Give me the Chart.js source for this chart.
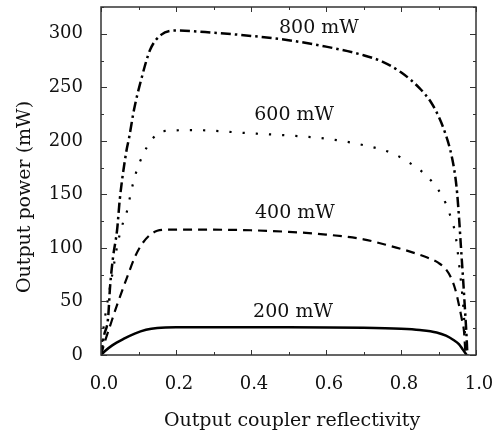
<!DOCTYPE html>
<html>
<head>
<meta charset="utf-8">
<script src="https://cdn.jsdelivr.net/npm/chart.js@4/dist/chart.umd.min.js"></script>
<style>
  body { margin: 0; background: #fff; }
  #wrap { width: 500px; height: 430px; }
</style>
</head>
<body>
<div id="wrap"><canvas id="chart"></canvas></div>
<script>
// reflectivity (x) and output power (y, mW) per pump power
var r800 = [0, 0.008, 0.019, 0.024, 0.032, 0.043, 0.05, 0.067, 0.075, 0.088, 0.107, 0.131, 0.16, 0.2, 0.3, 0.4, 0.5, 0.6, 0.7, 0.75, 0.8, 0.85, 0.88, 0.9, 0.92, 0.935, 0.945, 0.95, 0.955, 0.96, 0.965, 0.97, 0.975, 0.977];
var p800 = [0, 18, 35, 63, 91, 117, 145, 189, 203, 229, 257, 285, 299, 303, 301, 298, 294, 288, 280, 274, 264, 249, 236, 223, 205, 186, 166, 150, 127, 100, 74, 46, 16, 0];

var r600 = [0, 0.005, 0.015, 0.03, 0.045, 0.06, 0.069, 0.077, 0.086, 0.096, 0.112, 0.133, 0.165, 0.25, 0.4, 0.5, 0.6, 0.7, 0.78, 0.82, 0.85, 0.88, 0.9, 0.92, 0.935, 0.945, 0.952, 0.957, 0.963, 0.968, 0.973];
var p600 = [0, 20, 45, 75, 105, 125, 134, 147, 161, 173, 187, 200, 209, 210, 207, 205, 202, 196, 188, 180, 173, 163, 154, 141, 126, 113, 94, 78, 58, 36, 0];

var r400 = [0, 0.01, 0.024, 0.045, 0.069, 0.091, 0.11, 0.13, 0.15, 0.17, 0.3, 0.4, 0.5, 0.6, 0.7, 0.77, 0.82, 0.87, 0.9, 0.92, 0.935, 0.945, 0.955, 0.963, 0.968, 0.972];
var p400 = [0, 12, 27, 49, 72, 92, 104, 112, 116, 117, 117, 116.5, 115, 112.5, 108, 102, 97, 91, 86, 80, 71, 61, 46, 32, 22, 0];

var r200 = [0, 0.01, 0.03, 0.06, 0.09, 0.12, 0.15, 0.2, 0.5, 0.7, 0.8, 0.85, 0.895, 0.92, 0.94, 0.955, 0.965, 0.975];
var p200 = [0, 3.5, 9, 15, 20, 23.5, 25.3, 26, 26, 25.5, 24.5, 23.3, 21, 18, 14, 10, 5, 0];

var curveLabels = ['800 mW', '600 mW', '400 mW', '200 mW'];
var labelX = [0.581, 0.515, 0.517, 0.512];
var labelY = [305, 224, 133, 40];

var xTicks = [0, 0.2, 0.4, 0.6, 0.8, 1.0];
var yTicks = [0, 50, 100, 150, 200, 250, 300];

var serif = '"DejaVu Serif", "Liberation Serif", serif';

function pts(xs, ys) {
  return xs.map(function(x, i) { return { x: x, y: ys[i] }; });
}

function line(data, dash, width) {
  return {
    data: data,
    borderColor: '#000',
    borderWidth: width,
    borderDash: dash,
    borderCapStyle: 'butt',
    pointRadius: 0,
    fill: false,
    cubicInterpolationMode: 'monotone'
  };
}

// frame, inward ticks, axis titles and curve labels
var decor = {
  id: 'decor',
  afterDraw: function(chart) {
    var c = chart.ctx, a = chart.chartArea;
    var xs = chart.scales.x, ys = chart.scales.y;
    c.save();
    c.strokeStyle = '#333';
    c.lineWidth = 1;
    var i, px, len;
    for (i = 0; i <= 10; i++) {
      px = Math.round(xs.getPixelForValue(i / 10)) + 0.5;
      len = (i % 2 === 0) ? 5 : 3;
      c.beginPath();
      c.moveTo(px, a.bottom); c.lineTo(px, a.bottom - len);
      c.moveTo(px, a.top); c.lineTo(px, a.top + len);
      c.stroke();
    }
    for (i = 0; i <= 325; i += 25) {
      px = Math.round(ys.getPixelForValue(i)) + 0.5;
      len = (i % 50 === 0) ? 6 : 3;
      c.beginPath();
      c.moveTo(a.left, px); c.lineTo(a.left + len, px);
      c.moveTo(a.right, px); c.lineTo(a.right - len, px);
      c.stroke();
    }
    c.lineWidth = 1.5;
    c.strokeRect(a.left, a.top, a.right - a.left, a.bottom - a.top);

    c.fillStyle = '#111';
    c.font = '19px ' + serif;
    c.textAlign = 'center';
    c.textBaseline = 'middle';
    for (i = 0; i < curveLabels.length; i++) {
      c.fillText(curveLabels[i], xs.getPixelForValue(labelX[i]), ys.getPixelForValue(labelY[i]));
    }
    c.fillText('Output coupler reflectivity', 292, 421);
    c.translate(25, 197);
    c.rotate(-Math.PI / 2);
    c.fillText('Output power (mW)', 0, 0);
    c.restore();
  }
};

new Chart(document.getElementById('chart'), {
  type: 'line',
  data: {
    datasets: [
      line(pts(r800, p800), [10, 4, 2.5, 4], 2.5),
      line(pts(r600, p600), [2.2, 11], 2.2),
      line(pts(r400, p400), [9, 6], 2.2),
      line(pts(r200, p200), [], 2.5)
    ]
  },
  plugins: [decor],
  options: {
    responsive: true,
    maintainAspectRatio: false,
    animation: false,
    layout: { padding: { top: 7, right: 24, left: 0, bottom: 0 } },
    plugins: { legend: { display: false }, tooltip: { enabled: false } },
    scales: {
      x: {
        type: 'linear', min: 0, max: 1,
        afterFit: function(s) { s.height = 75; s.paddingLeft = 0; s.paddingRight = 0; },
        afterBuildTicks: function(s) { s.ticks = xTicks.map(function(v) { return { value: v }; }); },
        grid: { display: false, drawTicks: false },
        border: { display: false },
        ticks: {
          padding: 19, labelOffset: 3, color: '#111',
          font: { family: serif, size: 18 },
          callback: function(v) { return Number(v).toFixed(1); }
        }
      },
      y: {
        type: 'linear', min: 0, max: 325,
        afterFit: function(s) { s.width = 101; s.paddingTop = 0; s.paddingBottom = 0; },
        afterBuildTicks: function(s) { s.ticks = yTicks.map(function(v) { return { value: v }; }); },
        grid: { display: false, drawTicks: false },
        border: { display: false },
        ticks: { padding: 18, color: '#111', font: { family: serif, size: 18 } }
      }
    }
  }
});
</script>
</body>
</html>
